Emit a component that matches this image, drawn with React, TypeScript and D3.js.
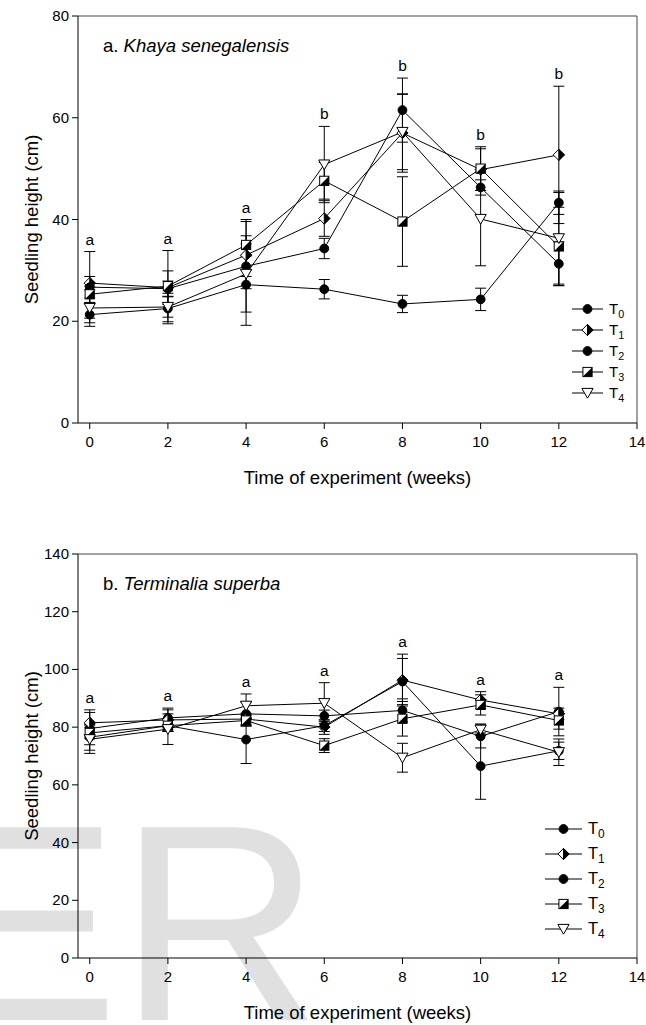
import React from 'react';
import * as d3 from 'd3';

// weeks of measurement and axis ticks
const weeks = [0, 2, 4, 6, 8, 10, 12];
const xTicks = [0, 2, 4, 6, 8, 10, 12, 14];
const treatments = ['0', '1', '2', '3', '4'];
const markerKinds = ['circle', 'diamond', 'circle', 'square', 'triangle'];

// a. Khaya senegalensis (rows T0..T4, columns weeks)
const khayaMeans = [
  [21.3, 22.5, 27.2, 26.3, 23.4, 24.3, 43.3],
  [27.5, 26.6, 33.0, 40.2, 57.0, 49.8, 52.7],
  [26.7, 26.4, 30.8, 34.3, 61.5, 46.3, 31.3],
  [25.3, 26.9, 35.0, 47.6, 39.6, 50.0, 34.7],
  [22.6, 22.8, 29.3, 50.8, 57.2, 40.1, 36.3],
];
const khayaErrors = [
  [2.3, 3.0, 8.0, 1.9, 1.7, 2.2, 2.3],
  [1.3, 3.3, 6.6, 3.5, 7.7, 4.1, 13.5],
  [7.0, 1.5, 2.0, 2.0, 6.3, 1.5, 4.3],
  [1.6, 7.0, 5.0, 3.6, 8.8, 4.3, 7.7],
  [2.0, 2.0, 7.5, 7.5, 7.4, 9.2, 9.0],
];
const khayaLetters = ['a', 'a', 'a', 'b', 'b', 'b', 'b'];
const khayaTicks = [0, 20, 40, 60, 80];

// b. Terminalia superba
const terminaliaMeans = [
  [79.5, 83.2, 84.6, 83.9, 85.8, 76.8, 85.4],
  [81.5, 82.5, 82.8, 80.0, 96.3, 89.4, 84.6],
  [76.5, 80.5, 75.7, 80.5, 95.8, 66.5, 71.8],
  [78.0, 80.5, 82.3, 73.6, 82.9, 87.7, 82.3],
  [75.8, 79.3, 87.4, 88.3, 69.4, 79.1, 71.3],
];
const terminaliaErrors = [
  [5.6, 3.4, 4.0, 2.0, 4.0, 4.0, 8.4],
  [4.5, 3.5, 2.0, 2.5, 9.0, 2.9, 2.0],
  [4.5, 2.0, 8.3, 2.0, 8.0, 11.5, 3.0],
  [2.0, 2.0, 2.0, 2.4, 6.0, 3.5, 3.0],
  [4.9, 5.3, 4.1, 7.1, 5.0, 2.0, 4.6],
];
const terminaliaLetters = ['a', 'a', 'a', 'a', 'a', 'a', 'a'];
const terminaliaTicks = [0, 20, 40, 60, 80, 100, 120, 140];

const FONT = 'Liberation Sans, Arial, sans-serif';
const LEFT = 78;
const RIGHT = 637;

function Marker({kind, x, y}) {
  if (kind === 'circle') {
    return <circle cx={x} cy={y} r={4.4} fill="#000" stroke="#000" strokeWidth={1}/>;
  }
  if (kind === 'diamond') {
    const s = 5.6;
    return (
      <g transform={`translate(${x},${y})`}>
        <path d={`M0,${-s}L${s},0L0,${s}L${-s},0Z`} fill="#fff" stroke="#000" strokeWidth={1}/>
        <path d={`M0,${-s}L${s},0L0,${s}Z`} fill="#000" stroke="#000" strokeWidth={1}/>
      </g>
    );
  }
  if (kind === 'square') {
    const s = 4.6;
    return (
      <g transform={`translate(${x},${y})`}>
        <rect x={-s} y={-s} width={2 * s} height={2 * s} fill="#fff" stroke="#000" strokeWidth={1}/>
        <path d={`M${s},${-s}L${s},${s}L${-s},${s}Z`} fill="#000"/>
      </g>
    );
  }
  return (
    <path transform={`translate(${x},${y})`} d="M-5.6,-4.6L5.6,-4.6L0,5.2Z"
          fill="#fff" stroke="#000" strokeWidth={1}/>
  );
}

function Panel({top, bottom, yMax, yTicks, means, errors, letters, label, species, legend}) {
  const x = d3.scaleLinear().domain([-0.3, 14]).range([LEFT, RIGHT]);
  const y = d3.scaleLinear().domain([0, yMax]).range([bottom, top]);
  const line = d3.line().x((d, i) => x(weeks[i])).y(d => y(d));
  const cap = 5.5;

  return (
    <g>
      {/* frame */}
      <path d={`M${LEFT},${top}H${RIGHT}V${bottom}`} fill="none" stroke="#444" strokeWidth={1}/>
      <line x1={LEFT} x2={LEFT} y1={top} y2={bottom} stroke="#000"/>
      <line x1={LEFT} x2={RIGHT} y1={bottom} y2={bottom} stroke="#000"/>

      {yTicks.map(t => (
        <g key={'y' + t}>
          <line x1={LEFT - 6} x2={LEFT} y1={y(t)} y2={y(t)} stroke="#000"/>
          <text x={LEFT - 9} y={y(t) + 5} textAnchor="end" fontSize={15} fontFamily={FONT}>{t}</text>
        </g>
      ))}
      {xTicks.map(t => (
        <g key={'x' + t}>
          <line x1={x(t)} x2={x(t)} y1={bottom} y2={bottom + 6} stroke="#000"/>
          <text x={x(t)} y={bottom + 24} textAnchor="middle" fontSize={15} fontFamily={FONT}>{t}</text>
        </g>
      ))}

      <text x={(LEFT + RIGHT) / 2} y={bottom + 61} textAnchor="middle" fontSize={18.5} fontFamily={FONT}>
        Time of experiment (weeks)
      </text>
      <text transform={`translate(38,${(top + bottom) / 2}) rotate(-90)`} textAnchor="middle"
            fontSize={18.5} fontFamily={FONT}>Seedling height (cm)</text>

      <text x={103} y={top + 36} fontSize={18.5} fontFamily={FONT}>
        {label} <tspan fontStyle="italic">{species}</tspan>
      </text>

      {/* lines */}
      {means.map((m, s) => (
        <path key={'l' + s} d={line(m)} fill="none" stroke="#000" strokeWidth={1}/>
      ))}
      {/* error bars */}
      {means.map((m, s) => m.map((v, i) => {
        const e = errors[s][i];
        const cx = x(weeks[i]);
        return (
          <g key={`e${s}-${i}`} stroke="#000" strokeWidth={1}>
            <line x1={cx} x2={cx} y1={y(v + e)} y2={y(v - e)}/>
            <line x1={cx - cap} x2={cx + cap} y1={y(v + e)} y2={y(v + e)}/>
            <line x1={cx - cap} x2={cx + cap} y1={y(v - e)} y2={y(v - e)}/>
          </g>
        );
      }))}
      {means.map((m, s) => m.map((v, i) => (
        <Marker key={`m${s}-${i}`} kind={markerKinds[s]} x={x(weeks[i])} y={y(v)}/>
      )))}

      {letters.map((l, i) => {
        const hi = d3.max(means, (m, s) => m[i] + errors[s][i]);
        return (
          <text key={'t' + i} x={x(weeks[i])} y={y(hi) - 7} textAnchor="middle"
                fontSize={15.5} fontFamily={FONT}>{l}</text>
        );
      })}

      {/* legend */}
      {treatments.map((t, k) => {
        const ly = legend.y + k * legend.step;
        return (
          <g key={'g' + t}>
            <line x1={legend.x1} x2={legend.x2} y1={ly} y2={ly} stroke="#000"/>
            <Marker kind={markerKinds[k]} x={(legend.x1 + legend.x2) / 2} y={ly}/>
            <text x={legend.x2 + 6} y={ly + 5} fontSize={legend.font} fontFamily={FONT}>
              T<tspan fontSize={legend.font * 0.72} dy={4}>{t}</tspan>
            </text>
          </g>
        );
      })}
    </g>
  );
}

export default function App() {
  return (
    <div style={{position: 'absolute', left: 0, top: 0}}>
      <svg width={646} height={1025} style={{display: 'block', background: '#fff'}}>
        <text x={-68} y={1020} fontSize={280} fontFamily={FONT} fill="#e0e0e0">ER</text>
        <Panel top={16} bottom={423} yMax={80} yTicks={khayaTicks}
               means={khayaMeans} errors={khayaErrors} letters={khayaLetters}
               label="a." species="Khaya senegalensis"
               legend={{x1: 572, x2: 603, y: 309, step: 21, font: 15}}/>
        <Panel top={554} bottom={958} yMax={140} yTicks={terminaliaTicks}
               means={terminaliaMeans} errors={terminaliaErrors} letters={terminaliaLetters}
               label="b." species="Terminalia superba"
               legend={{x1: 545, x2: 582, y: 829, step: 25, font: 16.5}}/>
      </svg>
    </div>
  );
}
